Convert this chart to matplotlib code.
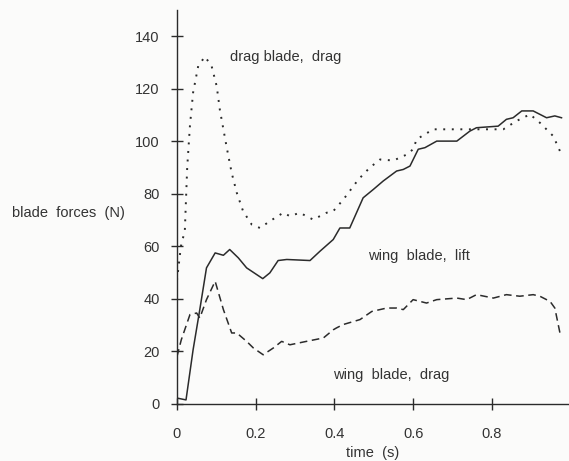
import numpy as np
import matplotlib.pyplot as plt

plt.rcParams['font.family'] = ['Liberation Sans', 'DejaVu Sans']

# drag blade, drag (dotted)
t_drag_blade = [0.0, 0.010, 0.020, 0.026, 0.033, 0.041, 0.054, 0.071, 0.088, 0.101, 0.109,
                0.126, 0.139, 0.152, 0.168, 0.190, 0.211, 0.236, 0.270, 0.287, 0.312,
                0.346, 0.380, 0.397, 0.423, 0.461, 0.490, 0.516, 0.550, 0.584, 0.600,
                0.609, 0.651, 0.736, 0.829, 0.863, 0.897, 0.922, 0.956, 0.973]
f_drag_blade = [47, 60, 66, 90, 106, 118.6, 128.7, 132.3, 128.7, 121, 112,
                98, 88, 80.4, 73.4, 68.3, 67, 69.6, 72.8, 71.5, 72.8,
                70.2, 72.8, 73.4, 77.9, 85.5, 90, 93.1, 92.7, 95, 97,
                100.8, 104.6, 104.6, 104.6, 107.8, 110.3, 107.1, 102, 96.3]

# wing blade, lift (solid)
t_wing_lift = [0.0, 0.023, 0.041, 0.058, 0.075, 0.097, 0.118, 0.134, 0.156, 0.177,
               0.218, 0.236, 0.257, 0.279, 0.338, 0.363, 0.397, 0.414, 0.439, 0.473,
               0.499, 0.524, 0.558, 0.575, 0.592, 0.613, 0.630, 0.660, 0.711, 0.744,
               0.761, 0.816, 0.837, 0.854, 0.876, 0.905, 0.939, 0.960, 0.977]
f_wing_lift = [2.2, 1.5, 20.6, 35.9, 51.8, 57.5, 56.6, 58.8, 55.6, 51.8,
               47.7, 49.9, 54.6, 55, 54.6, 58.1, 62.6, 67, 67, 78.5,
               81.7, 84.9, 88.7, 89.3, 90.6, 97, 97.6, 100.1, 100.1, 103.9,
               105.2, 105.8, 108.4, 109, 111.6, 111.6, 109, 109.7, 109]

# wing blade, drag (dashed)
t_wing_drag = [0.0, 0.011, 0.033, 0.050, 0.058, 0.075, 0.097, 0.118, 0.139, 0.152,
               0.177, 0.194, 0.219, 0.245, 0.266, 0.287, 0.329, 0.372, 0.397, 0.405,
               0.422, 0.465, 0.495, 0.533, 0.558, 0.575, 0.600, 0.634, 0.660, 0.711,
               0.736, 0.761, 0.804, 0.837, 0.871, 0.905, 0.922, 0.948, 0.960, 0.973]
f_wing_drag = [18, 24.4, 34, 34.6, 32.7, 39.7, 46.7, 35.9, 27, 27,
               23.8, 21.3, 18.7, 21.3, 23.8, 22.5, 23.8, 25.1, 28.2, 28.9,
               30.2, 32.1, 35.2, 36.5, 36.5, 35.9, 39.7, 38.4, 39.7, 40.3,
               39.7, 41.6, 40.3, 41.6, 41, 41.6, 41, 39, 36.5, 27]

x_ticks = [0, 0.2, 0.4, 0.6, 0.8]
x_tick_labels = ['0', '0.2', '0.4', '0.6', '0.8']
y_ticks = [0, 20, 40, 60, 80, 100, 120, 140]

ink = '#2b2b2b'

fig = plt.figure(figsize=(5.69, 4.61), dpi=100)
fig.patch.set_facecolor('#fbfbfa')
ax = fig.add_axes([0.311, 0.124, 0.689, 0.854])
ax.set_facecolor('#fbfbfa')

ax.plot(t_drag_blade, f_drag_blade, color=ink, lw=1.4, linestyle=(0, (1, 3.4)))
ax.plot(t_wing_lift, f_wing_lift, color=ink, lw=1.1)
ax.plot(t_wing_drag, f_wing_drag, color=ink, lw=1.1, linestyle=(0, (5, 3)))

ax.set_xlim(0, 0.996)
ax.set_ylim(0, 150)
for side in ['top', 'right']:
    ax.spines[side].set_visible(False)
for side in ['left', 'bottom']:
    ax.spines[side].set_color(ink)
    ax.spines[side].set_linewidth(1.0)

ax.set_xticks(x_ticks)
ax.set_xticklabels(x_tick_labels)
ax.set_yticks(y_ticks)
ax.tick_params(direction='inout', length=9, width=1.0, colors=ink,
               labelsize=10.5, labelcolor='#333333')
ax.tick_params(axis='y', pad=8)
ax.tick_params(axis='x', pad=12)

ax.text(0.135, 132, 'drag blade,  drag', fontsize=10.5, color='#333333', va='center')
ax.text(0.485, 56.5, 'wing  blade,  lift', fontsize=10.5, color='#333333', va='center')
ax.text(0.397, 11, 'wing  blade,  drag', fontsize=10.5, color='#333333', va='center')

fig.text(0.021, 0.538, 'blade  forces  (N)', fontsize=10.5, color='#333333', va='center')
fig.text(0.654, 0.017, 'time  (s)', fontsize=10.5, color='#333333', ha='center', va='center')

fig.savefig('out.png', dpi=100, facecolor=fig.get_facecolor())
